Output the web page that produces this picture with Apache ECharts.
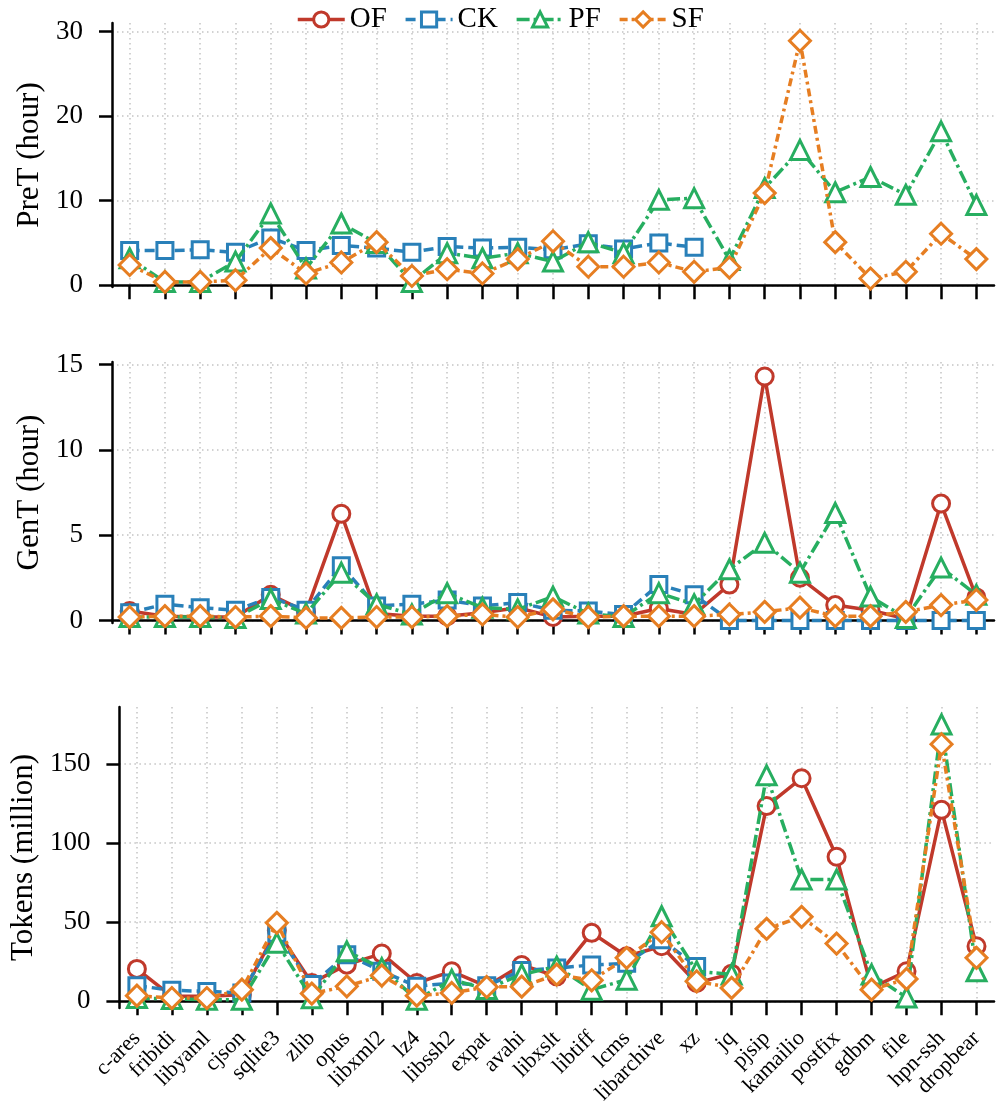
<!DOCTYPE html>
<html>
<head>
<meta charset="utf-8">
<script src="https://cdn.jsdelivr.net/npm/echarts@6/dist/echarts.min.js"></script>
<style>
html, body { margin: 0; padding: 0; background: #fff; }
#chart { width: 999px; height: 1112px; }
</style>
</head>
<body>
<div id="chart"></div>
<script>
var categories = ['c-ares', 'fribidi', 'libyaml', 'cjson', 'sqlite3', 'zlib', 'opus', 'libxml2', 'lz4', 'libssh2',
    'expat', 'avahi', 'libxslt', 'libtiff', 'lcms', 'libarchive', 'xz', 'jq', 'pjsip', 'kamailio',
    'postfix', 'gdbm', 'file', 'hpn-ssh', 'dropbear'];

// PreT (hour)
var pretOF = [null, null, null, null, null, null, null, null, null, null, null, null, null,
    null, null, null, null, null, null, null, null, null, null, null, null];
var pretCK = [4.1, 4.1, 4.2, 3.9, 5.6, 4.1, 4.7, 4.4, 3.9, 4.6, 4.4, 4.5, 4.2, 4.9, 4.3, 5.0, 4.5,
    null, null, null, null, null, null, null, null];
var pretPF = [3.2, 0.4, 0.4, 2.8, 8.5, 2.0, 7.3, 5.0, 0.4, 3.8, 3.2, 3.8, 2.8, 5.1, 3.8, 10.1, 10.3,
    3.0, 11.5, 16.0, 11.0, 12.8, 10.7, 18.2, 9.5];
var pretSF = [2.4, 0.4, 0.4, 0.6, 4.4, 1.4, 2.7, 5.1, 1.1, 1.9, 1.4, 3.1, 5.2, 2.2, 2.2, 2.7, 1.6,
    2.1, 10.9, 28.9, 5.1, 0.8, 1.6, 6.1, 3.1];

// GenT (hour)
var genOF = [0.55, 0.25, 0.2, 0.2, 1.5, 0.5, 6.25, 0.4, 0.25, 0.25, 0.45, 0.75, 0.2, 0.25, 0.25, 0.7, 0.35,
    2.1, 14.3, 2.5, 0.9, 0.6, 0.1, 6.85, 1.35];
var genCK = [0.45, 0.95, 0.75, 0.6, 1.35, 0.6, 3.2, 0.85, 0.95, 1.2, 0.85, 1.05, 0.6, 0.55, 0.35, 2.1, 1.5,
    0, 0, 0, 0, 0, 0, 0, 0];
var genPF = [0.2, 0.2, 0.2, 0.15, 1.25, 0.4, 2.8, 0.95, 0.35, 1.6, 0.75, 0.65, 1.4, 0.4, 0.2, 1.6, 0.95,
    3.0, 4.55, 2.8, 6.3, 1.4, 0.15, 3.1, 1.5];
var genSF = [0.2, 0.25, 0.25, 0.2, 0.25, 0.15, 0.15, 0.2, 0.2, 0.25, 0.35, 0.2, 0.65, 0.2, 0.25, 0.25, 0.25,
    0.35, 0.5, 0.75, 0.25, 0.25, 0.5, 0.9, 1.2];

// Tokens (million)
var tokOF = [20.5, 3.2, 3.2, 4.2, 45, 11.6, 23.2, 30.2, 11.6, 19, 9.5, 23, 15.8, 43.3, 28.5, 34.8, 11.6,
    17.5, 123.4, 141, 91.4, 8.5, 19, 121, 34.8];
var tokCK = [9.9, 7, 6.3, 5.3, 43, 10.6, 29.5, 19, 9.5, 11.6, 9.9, 19.5, 21, 23, 24, 39, 22,
    null, null, null, null, null, null, null, null];
var tokPF = [2.1, 1.5, 1, 1, 37, 2, 31.6, 21, 1, 13.7, 7.8, 17, 22, 7.4, 13.7, 53.8, 19,
    17, 142.8, 77, 77, 17, 2.5, 175, 19];
var tokSF = [3.6, 2.1, 2.1, 7.4, 49.6, 4.9, 9.5, 16.3, 3.6, 5.3, 9.1, 9.3, 16.9, 13.3, 27.5, 43.7, 12.7,
    8.5, 45.8, 53.4, 36.5, 7.4, 14.2, 162.5, 27.5];

var pretTicks = [0, 10, 20, 30];
var genTicks = [0, 5, 10, 15];
var tokTicks = [0, 50, 100, 150];

var FONT = 'Liberation Serif';
var names = ['OF', 'CK', 'PF', 'SF'];
var colors = ['#C0392B', '#2980B9', '#27AE60', '#E67E22'];
var symbols = ['circle', 'rect', 'triangle', 'diamond'];
var symbolSizes = [17, 16, 19, 21];
var dashes = ['solid', [10, 5], [13, 4, 3, 4], [8, 4, 3, 4]];

var gridLine = { show: true, lineStyle: { color: '#c4c4c4', width: 1.5, type: [1.5, 3.5] } };
var axisLine = { show: true, lineStyle: { color: '#000', width: 2.5 } };

function xAxisFor(idx, showLabels) {
    return {
        type: 'category',
        gridIndex: idx,
        data: categories,
        boundaryGap: true,
        axisLine: axisLine,
        axisTick: { show: true, alignWithLabel: true, length: 14, inside: false, lineStyle: { color: '#000', width: 2.5 } },
        axisLabel: {
            show: showLabels, interval: 0, rotate: 45, margin: 27,
            fontFamily: FONT, fontSize: 22, color: '#000'
        },
        splitLine: Object.assign({ alignWithLabel: true, interval: 0 }, gridLine)
    };
}

function yAxisFor(idx, name, min, max, ticks, gap) {
    return {
        type: 'value',
        gridIndex: idx,
        name: name,
        nameLocation: 'middle',
        nameGap: gap,
        nameTextStyle: { fontFamily: FONT, fontSize: 31, color: '#000' },
        min: min,
        max: max,
        axisLine: axisLine,
        axisTick: { show: true, length: 13, customValues: ticks, lineStyle: { color: '#000', width: 2.5 } },
        axisLabel: { customValues: ticks, margin: 29, fontFamily: FONT, fontSize: 27, color: '#000' },
        splitLine: gridLine
    };
}

var panels = [
    [pretOF, pretCK, pretPF, pretSF],
    [genOF, genCK, genPF, genSF],
    [tokOF, tokCK, tokPF, tokSF]
];

var series = [];
panels.forEach(function (sets, p) {
    sets.forEach(function (values, k) {
        series.push({
            name: names[k],
            type: 'line',
            xAxisIndex: p,
            yAxisIndex: p,
            data: values,
            connectNulls: false,
            symbol: symbols[k],
            symbolSize: symbolSizes[k],
            showAllSymbol: true,
            lineStyle: { color: colors[k], width: 3.5, type: dashes[k] },
            itemStyle: { color: '#fff', borderColor: colors[k], borderWidth: 3 },
            emphasis: { disabled: true },
            z: 2 + k
        });
    });
});

var option = {
    animation: false,
    backgroundColor: '#fff',
    legend: {
        data: names,
        left: 291,
        top: 0,
        itemWidth: 47,
        itemHeight: 19,
        itemGap: 17,
        lineStyle: { width: 3.5 },
        itemStyle: { borderWidth: 3 },
        textStyle: { fontFamily: FONT, fontSize: 29, color: '#000' }
    },
    grid: [
        { left: 112, right: 5, top: 23, height: 264 },
        { left: 112, right: 5, top: 362, height: 261 },
        { left: 112, right: 5, top: 707, height: 301 }
    ],
    xAxis: [xAxisFor(0, false), xAxisFor(1, false), xAxisFor(2, true)],
    yAxis: [
        yAxisFor(0, 'PreT (hour)', -0.2, 31, pretTicks, 62),
        yAxisFor(1, 'GenT (hour)', -0.15, 15.15, genTicks, 60),
        yAxisFor(2, 'Tokens (million)', -4.2, 186, tokTicks, 77)
    ],
    series: series
};

var myChart = echarts.init(document.getElementById('chart'));
myChart.setOption(option);
window.addEventListener('resize', function () {
    myChart.resize();
});
</script>
</body>
</html>
